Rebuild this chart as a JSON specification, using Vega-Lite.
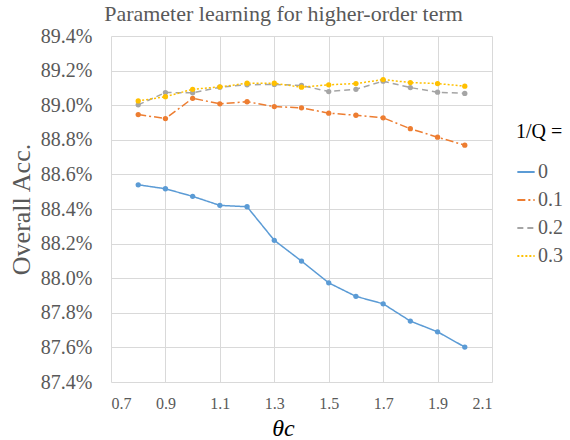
{
  "$schema": "https://vega.github.io/schema/vega-lite/v6.json",
  "autosize": {"type": "none"},
  "width": 381,
  "height": 346,
  "padding": {"left": 111, "top": 36, "right": 78, "bottom": 58},
  "background": "white",
  "title": {
    "text": "Parameter learning for higher-order term",
    "font": "Liberation Serif",
    "fontSize": 22,
    "fontWeight": "normal",
    "color": "#595959",
    "anchor": "middle",
    "dx": -18,
    "offset": 0
  },
  "data": {
    "values": [
      {"theta": 0.8, "q": "0", "acc": 88.540},
      {"theta": 0.9, "q": "0", "acc": 88.517},
      {"theta": 1.0, "q": "0", "acc": 88.473},
      {"theta": 1.1, "q": "0", "acc": 88.421},
      {"theta": 1.2, "q": "0", "acc": 88.413},
      {"theta": 1.3, "q": "0", "acc": 88.219},
      {"theta": 1.4, "q": "0", "acc": 88.099},
      {"theta": 1.5, "q": "0", "acc": 87.973},
      {"theta": 1.6, "q": "0", "acc": 87.895},
      {"theta": 1.7, "q": "0", "acc": 87.852},
      {"theta": 1.8, "q": "0", "acc": 87.752},
      {"theta": 1.9, "q": "0", "acc": 87.690},
      {"theta": 2.0, "q": "0", "acc": 87.602},
      {"theta": 0.8, "q": "0.1", "acc": 88.946},
      {"theta": 0.9, "q": "0.1", "acc": 88.923},
      {"theta": 1.0, "q": "0.1", "acc": 89.040},
      {"theta": 1.1, "q": "0.1", "acc": 89.008},
      {"theta": 1.2, "q": "0.1", "acc": 89.020},
      {"theta": 1.3, "q": "0.1", "acc": 88.992},
      {"theta": 1.4, "q": "0.1", "acc": 88.985},
      {"theta": 1.5, "q": "0.1", "acc": 88.954},
      {"theta": 1.6, "q": "0.1", "acc": 88.942},
      {"theta": 1.7, "q": "0.1", "acc": 88.927},
      {"theta": 1.8, "q": "0.1", "acc": 88.864},
      {"theta": 1.9, "q": "0.1", "acc": 88.815},
      {"theta": 2.0, "q": "0.1", "acc": 88.769},
      {"theta": 0.8, "q": "0.2", "acc": 89.002},
      {"theta": 0.9, "q": "0.2", "acc": 89.073},
      {"theta": 1.0, "q": "0.2", "acc": 89.072},
      {"theta": 1.1, "q": "0.2", "acc": 89.104},
      {"theta": 1.2, "q": "0.2", "acc": 89.118},
      {"theta": 1.3, "q": "0.2", "acc": 89.120},
      {"theta": 1.4, "q": "0.2", "acc": 89.114},
      {"theta": 1.5, "q": "0.2", "acc": 89.079},
      {"theta": 1.6, "q": "0.2", "acc": 89.092},
      {"theta": 1.7, "q": "0.2", "acc": 89.139},
      {"theta": 1.8, "q": "0.2", "acc": 89.102},
      {"theta": 1.9, "q": "0.2", "acc": 89.075},
      {"theta": 2.0, "q": "0.2", "acc": 89.068},
      {"theta": 0.8, "q": "0.3", "acc": 89.025},
      {"theta": 0.9, "q": "0.3", "acc": 89.049},
      {"theta": 1.0, "q": "0.3", "acc": 89.092},
      {"theta": 1.1, "q": "0.3", "acc": 89.106},
      {"theta": 1.2, "q": "0.3", "acc": 89.127},
      {"theta": 1.3, "q": "0.3", "acc": 89.127},
      {"theta": 1.4, "q": "0.3", "acc": 89.104},
      {"theta": 1.5, "q": "0.3", "acc": 89.118},
      {"theta": 1.6, "q": "0.3", "acc": 89.125},
      {"theta": 1.7, "q": "0.3", "acc": 89.148},
      {"theta": 1.8, "q": "0.3", "acc": 89.131},
      {"theta": 1.9, "q": "0.3", "acc": 89.125},
      {"theta": 2.0, "q": "0.3", "acc": 89.110}
    ]
  },
  "mark": {"type": "line", "strokeWidth": 1.5, "point": {"filled": true, "size": 28}},
  "encoding": {
    "x": {
      "field": "theta",
      "type": "quantitative",
      "scale": {"domain": [0.7, 2.1], "nice": false, "zero": false},
      "axis": {
        "values": [0.7, 0.9, 1.1, 1.3, 1.5, 1.7, 1.9, 2.1],
        "format": ".1f",
        "title": "θc",
        "titleFontStyle": "italic",
        "titleFont": "Liberation Serif",
        "titleFontSize": 24,
        "titleFontWeight": "normal",
        "titleColor": "#000000",
        "titleX": 172,
        "titlePadding": 5,
        "labelFont": "Liberation Serif",
        "labelFontSize": 16,
        "labelColor": "#595959",
        "labelPadding": 13,
        "domain": false,
        "ticks": false,
        "grid": true,
        "gridColor": "#d9d9d9",
        "gridWidth": 1
      }
    },
    "y": {
      "field": "acc",
      "type": "quantitative",
      "scale": {"domain": [87.4, 89.4], "nice": false, "zero": false},
      "axis": {
        "values": [87.4, 87.6, 87.8, 88.0, 88.2, 88.4, 88.6, 88.8, 89.0, 89.2, 89.4],
        "labelExpr": "format(datum.value, '.1f') + '%'",
        "title": "Overall Acc.",
        "titleFont": "Liberation Serif",
        "titleFontSize": 26,
        "titleFontWeight": "normal",
        "titleColor": "#595959",
        "titlePadding": 6,
        "labelFont": "Liberation Serif",
        "labelFontSize": 20,
        "labelColor": "#595959",
        "labelPadding": 19,
        "domain": false,
        "ticks": false,
        "grid": true,
        "gridColor": "#d9d9d9",
        "gridWidth": 1
      }
    },
    "color": {
      "field": "q",
      "type": "nominal",
      "scale": {"domain": ["0", "0.1", "0.2", "0.3"], "range": ["#5B9BD5", "#ED7D31", "#A5A5A5", "#FFC000"]},
      "legend": {
        "title": "1/Q =",
        "orient": "none",
        "legendX": 405,
        "legendY": 86,
        "titleFont": "Liberation Serif",
        "titleFontSize": 20,
        "titleFontWeight": "normal",
        "titleColor": "#000000",
        "titlePadding": 20,
        "labelFont": "Liberation Serif",
        "labelFontSize": 20,
        "labelColor": "#595959",
        "labelOffset": 2,
        "rowPadding": 8,
        "symbolType": "stroke",
        "symbolSize": 300,
        "symbolStrokeWidth": 2
      }
    },
    "strokeDash": {
      "field": "q",
      "type": "nominal",
      "scale": {"domain": ["0", "0.1", "0.2", "0.3"], "range": [[1, 0], [8, 3, 2, 3], [6, 4], [2, 2]]},
      "legend": null
    }
  },
  "config": {"view": {"stroke": null}}
}
